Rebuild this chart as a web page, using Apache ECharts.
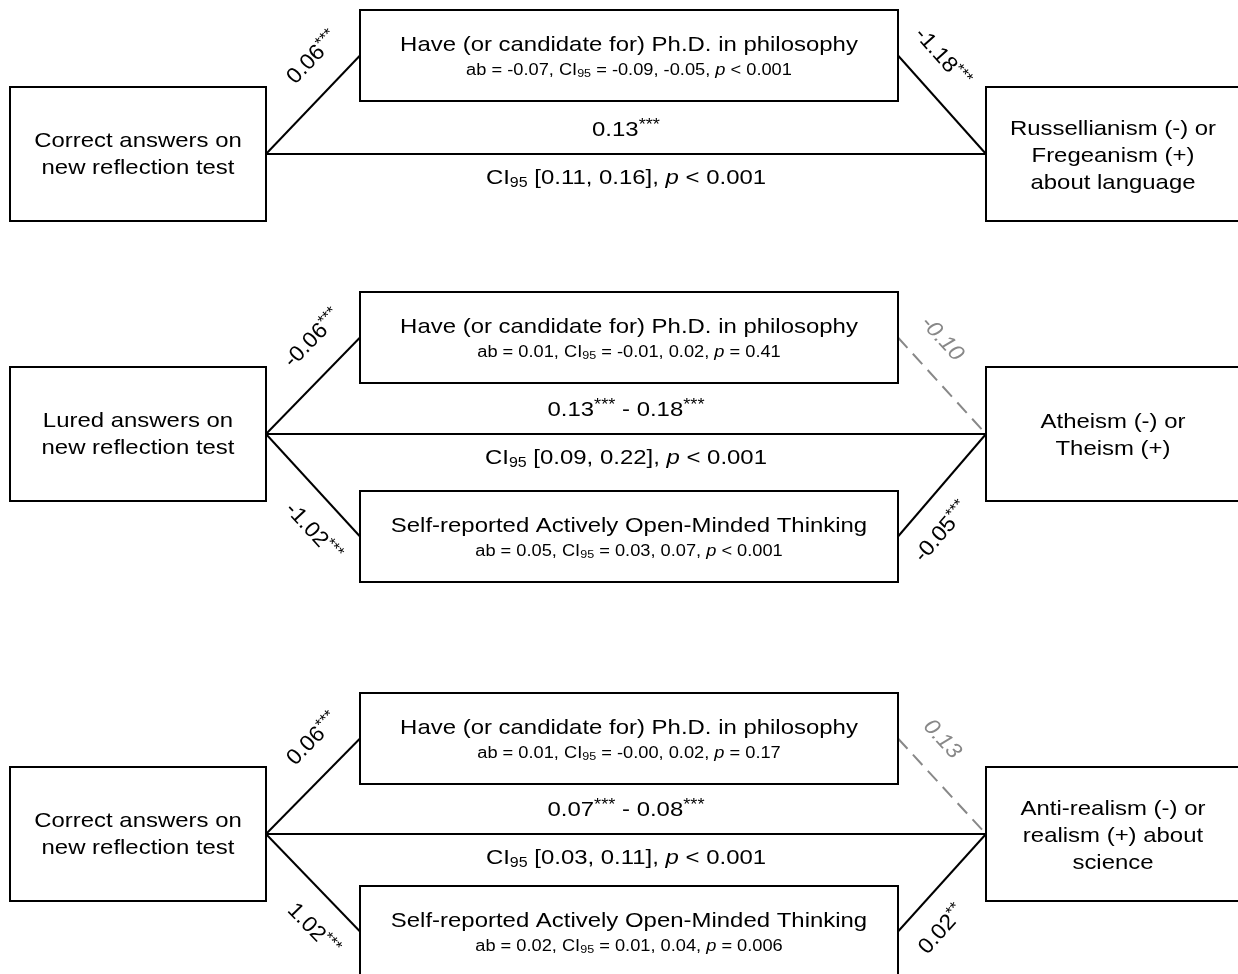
<!DOCTYPE html>
<html>
<head>
<meta charset="utf-8">
<title>Mediation models</title>
<script src="https://cdn.jsdelivr.net/npm/echarts@6/dist/echarts.min.js"></script>
<style>
  html, body { margin: 0; padding: 0; background: #fff; }
  #chart { width: 1238px; height: 974px; }
</style>
</head>
<body>
<div id="chart"></div>
<script>
// box texts
const predictors = ['Correct answers on\nnew reflection test', 'Lured answers on\nnew reflection test', 'Correct answers on\nnew reflection test']
const outcomes = ['Russellianism (-) or\nFregeanism (+)\nabout language', 'Atheism (-) or\nTheism (+)', 'Anti-realism (-) or\nrealism (+) about\nscience']
const mediators = ['Have (or candidate for) Ph.D. in philosophy', 'Self-reported Actively Open-Minded Thinking']

// a paths (predictor -> mediator) and b paths (mediator -> outcome), per panel
const aCoef = [['0.06'], ['-0.06', '-1.02'], ['0.06', '1.02']]
const aSig = [['***'], ['***', '***'], ['***', '***']]
const bCoef = [['-1.18'], ['-0.10', '-0.05'], ['0.13', '0.02']]
const bSig = [['***'], ['', '***'], ['', '**']]

// indirect effects
const abEst = [['-0.07'], ['0.01', '0.05'], ['0.01', '0.02']]
const abLow = [['-0.09'], ['-0.01', '0.03'], ['-0.00', '0.01']]
const abHigh = [['-0.05'], ['0.02', '0.07'], ['0.02', '0.04']]
const abP = [['< 0.001'], ['= 0.41', '< 0.001'], ['= 0.17', '= 0.006']]

// total / direct effect
const cCoef = [['0.13'], ['0.13', '0.18'], ['0.07', '0.08']]
const cSig = [['***'], ['***', '***'], ['***', '***']]
const cLow = ['0.11', '0.09', '0.03']
const cHigh = ['0.16', '0.22', '0.11']
const cP = ['< 0.001', '< 0.001', '< 0.001']

// layout (pixels on a 1238 x 974 canvas, y relative to panel top)
const W = 1238, H = 974
const panelTop = [0, 280, 680]
const medTop = [[10], [12, 211], [13, 206]]
const medH = 91
const medX = [360, 898]
const srcBox = [10, 87, 266, 221]
const outBox = [986, 87, 1242, 221]
const pathY = 154
const stretch = 1.14
const FONT = '"Liberation Sans", Arial, Helvetica, sans-serif'

const chart = echarts.init(document.getElementById('chart'))

const richSet = (size) => ({
  sup: { fontSize: Math.round(size * 0.74), fontFamily: FONT, verticalAlign: 'top', lineHeight: Math.round(size * 0.74) },
  sub: { fontSize: Math.round(size * 0.68), fontFamily: FONT, verticalAlign: 'bottom', lineHeight: Math.round(size * 0.68) },
  it: { fontSize: size, fontFamily: FONT, fontStyle: 'italic' }
})

const text = (pos, str, size, opts) => ({
  type: 'text',
  x: pos[0],
  y: pos[1],
  scaleX: (opts && opts.scaleX) || stretch,
  rotation: (opts && opts.rotation) || 0,
  style: {
    text: str,
    rich: richSet(size),
    fontSize: size,
    fontFamily: FONT,
    fontStyle: (opts && opts.italic) ? 'italic' : 'normal',
    lineHeight: (opts && opts.lineHeight) || Math.round(size * 1.2),
    fill: (opts && opts.color) || '#000',
    align: 'center',
    verticalAlign: 'middle'
  }
})

const seg = (from, to, solid) => ({
  type: 'line',
  shape: { x1: from[0], y1: from[1], x2: to[0], y2: to[1] },
  style: solid
    ? { stroke: '#000', lineWidth: 2 }
    : { stroke: '#888', lineWidth: 2, lineDash: [14, 8] }
})

const box = (a, b) => ({
  type: 'rect',
  shape: { x: a[0], y: a[1], width: b[0] - a[0], height: b[1] - a[1] },
  style: { fill: '#fff', stroke: '#000', lineWidth: 2 }
})

// coefficient written along a path
const coefLabel = (from, to, coef, sig, side) => {
  const ang = Math.atan2(to[1] - from[1], to[0] - from[0])
  const mid = [(from[0] + to[0]) / 2, (from[1] + to[1]) / 2 + side * 47]
  const ok = sig !== ''
  return text(mid, ok ? coef + '{sup|' + sig + '}' : coef, 22, {
    rotation: -ang, scaleX: 1.04, italic: !ok, color: ok ? '#000' : '#888'
  })
}

const renderPanel = (params, api) => {
  const p = api.value(0)
  const top = panelTop[p]
  const pt = (x, y) => api.coord([x, top + y])
  const src = pt(srcBox[2], pathY)
  const dst = pt(outBox[0], pathY)
  const lines = [seg(src, dst, true)]
  const boxes = []
  const labels = []

  medTop[p].forEach((mt, m) => {
    const cy = mt + medH / 2
    const mL = pt(medX[0], cy)
    const mR = pt(medX[1], cy)
    const side = m === 0 ? -1 : 1
    lines.push(seg(src, mL, aSig[p][m] !== ''))
    lines.push(seg(mR, dst, bSig[p][m] !== ''))
    boxes.push(box(pt(medX[0], mt), pt(medX[1], mt + medH + (mt + medH + top > H ? 6 : 0))))
    const cx = (medX[0] + medX[1]) / 2
    labels.push(text(pt(cx, cy - 10), mediators[m], 21))
    labels.push(text(pt(cx, cy + 15),
      'ab = ' + abEst[p][m] + ', CI{sub|95} = ' + abLow[p][m] + ', ' + abHigh[p][m] + ', {it|p} ' + abP[p][m], 16, { lineHeight: 18 }))
    labels.push(coefLabel(src, mL, aCoef[p][m], aSig[p][m], side))
    labels.push(coefLabel(mR, dst, bCoef[p][m], bSig[p][m], side))
  })

  boxes.push(box(pt(srcBox[0], srcBox[1]), pt(srcBox[2], srcBox[3])))
  boxes.push(box(pt(outBox[0], outBox[1]), pt(outBox[2], outBox[3])))
  labels.push(text(pt((srcBox[0] + srcBox[2]) / 2, pathY + 1), predictors[p], 21, { lineHeight: 27 }))
  labels.push(text(pt(1113, pathY + 2), outcomes[p], 21, { lineHeight: 27 }))

  const cx = (srcBox[2] + outBox[0]) / 2
  const above = cCoef[p].map((c, k) => c + '{sup|' + cSig[p][k] + '}').join(' - ')
  labels.push(text(pt(cx, pathY - 24), above, 21))
  labels.push(text(pt(cx, pathY + 24), 'CI{sub|95} [' + cLow[p] + ', ' + cHigh[p] + '], {it|p} ' + cP[p], 21))

  return { type: 'group', children: lines.concat(boxes, labels) }
}

chart.setOption({
  animation: false,
  backgroundColor: '#fff',
  grid: { left: 0, right: 0, top: 0, bottom: 0 },
  xAxis: { type: 'value', min: 0, max: W, show: false },
  yAxis: { type: 'value', min: 0, max: H, inverse: true, show: false },
  series: [{
    type: 'custom',
    silent: true,
    renderItem: renderPanel,
    data: panelTop.map((_, i) => [i, 0])
  }]
})
</script>
</body>
</html>
